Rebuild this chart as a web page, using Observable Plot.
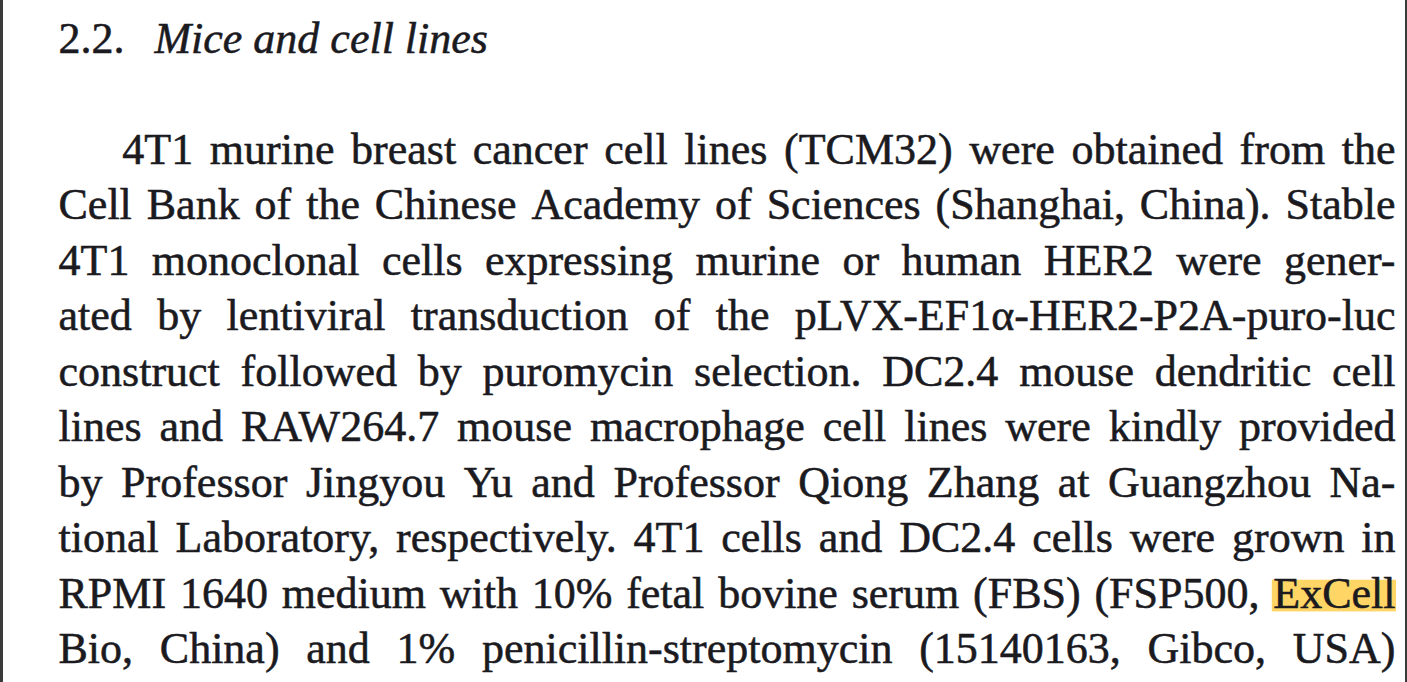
<!DOCTYPE html>
<html><head><meta charset="utf-8">
<script src="https://cdn.jsdelivr.net/npm/d3@7"></script>
<script src="https://cdn.jsdelivr.net/npm/@observablehq/plot@0.6"></script>
<style>
html,body{margin:0;padding:0;background:#fff;}
#page{width:1402px;height:682px;border-left:3px solid #3a3a3a;border-right:2px solid #3a3a3a;overflow:hidden;background:#fff;}
#page svg{display:block;}
</style></head><body><div id="page"></div>
<script>
// ---- data ----
const sectionNumber = "2.2.";
const sectionTitle = "Mice and cell lines";
const bodyLines = [
  "4T1 murine breast cancer cell lines (TCM32) were obtained from the",
  "Cell Bank of the Chinese Academy of Sciences (Shanghai, China). Stable",
  "4T1 monoclonal cells expressing murine or human HER2 were gener-",
  "ated by lentiviral transduction of the pLVX-EF1\u03b1-HER2-P2A-puro-luc",
  "construct followed by puromycin selection. DC2.4 mouse dendritic cell",
  "lines and RAW264.7 mouse macrophage cell lines were kindly provided",
  "by Professor Jingyou Yu and Professor Qiong Zhang at Guangzhou Na-",
  "tional Laboratory, respectively. 4T1 cells and DC2.4 cells were grown in",
  "RPMI 1640 medium with 10% fetal bovine serum (FBS) (FSP500, ExCell",
  "Bio, China) and 1% penicillin-streptomycin (15140163, Gibco, USA)"
];
const indentedLines = [0];
const highlight = {line: 8, word: "ExCell"};

// ---- layout ----
const W = 1402, H = 682;
const FONT = "Liberation Serif";
const SIZE = 44;
const PITCH = 55.5;
const FIRST_BASELINE = 52;
const mL = 55, mR = 10;
const textWidth = W - mL - mR;
const nRows = bodyLines.length + 2;
const ink = "#1a1a1f";

const ctx = document.createElement("canvas").getContext("2d");
function measure(s, style = "normal") {
  ctx.font = `${style} ${SIZE}px "${FONT}"`;
  return ctx.measureText(s).width;
}

const indent = 1.45 * SIZE;
const words = [];
let hlRect = null;
bodyLines.forEach((line, i) => {
  const ws = line.split(" ");
  const start = indentedLines.includes(i) ? indent : 0;
  const natural = d3.sum(ws, w => measure(w));
  const gap = (textWidth - start - natural) / (ws.length - 1);
  let x = start;
  ws.forEach((w) => {
    const wd = measure(w);
    words.push({row: i + 2, word: w, x: x / textWidth});
    if (i === highlight.line && w === highlight.word) {
      hlRect = {row: i + 2, x1: (x - 1) / textWidth, x2: (x + wd + 1) / textWidth};
    }
    x += wd + gap;
  });
});

const numWidth = measure(sectionNumber);
const titleNumber = [{text: sectionNumber, x: 0, row: 0}];
const titleText = [{text: sectionTitle, x: (numWidth + 0.68 * SIZE) / textWidth, row: 0}];

const hlTop = 0.62 * SIZE / PITCH, hlBottom = 0.1 * SIZE / PITCH;
const textStyle = {
  textAnchor: "start", lineAnchor: "bottom",
  fontSize: SIZE, fontFamily: FONT, fill: ink,
  stroke: ink, strokeWidth: 0.55
};

const chart = Plot.plot({
  width: W,
  height: H,
  margin: 0,
  x: {type: "linear", domain: [0, 1], range: [mL, W - mR], axis: null},
  y: {type: "linear", domain: [0, nRows - 1], range: [FIRST_BASELINE, FIRST_BASELINE + (nRows - 1) * PITCH], axis: null},
  style: {background: "#fff"},
  marks: [
    Plot.rect(hlRect ? [hlRect] : [], {
      x1: "x1", x2: "x2",
      y1: d => d.row - hlTop, y2: d => d.row + hlBottom,
      fill: "#ffd565"
    }),
    Plot.text(titleNumber, {x: "x", y: "row", text: "text", ...textStyle}),
    Plot.text(titleText, {x: "x", y: "row", text: "text", fontStyle: "italic", ...textStyle}),
    Plot.text(words, {x: "x", y: "row", text: "word", ...textStyle})
  ]
});
document.getElementById("page").appendChild(chart);
</script>
</body></html>
